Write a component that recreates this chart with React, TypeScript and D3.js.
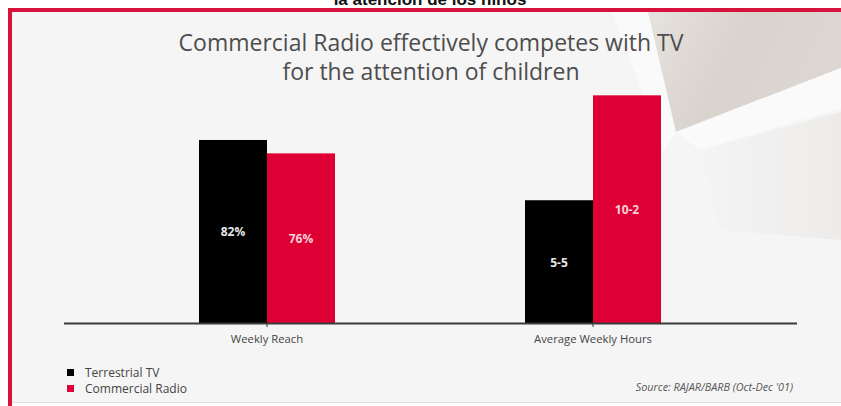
import React from "react";
import * as d3 from "d3";

const categories = ["Weekly Reach", "Average Weekly Hours"];
const series = ["Terrestrial TV", "Commercial Radio"];
const reachValues = [82, 76];
const hoursValues = [5.5, 10.2];
const reachLabels = ["82%", "76%"];
const hoursLabels = ["5-5", "10-2"];
const colors = ["#000000", "#de0034"];
const titleLines = ["Commercial Radio effectively competes with TV", "for the attention of children"];
const topCaption = "la atención de los niños";
const sourceText = "Source: RAJAR/BARB (Oct-Dec '01)";

const W = 841;
const H = 406;
const baseY = 323;
const topY = 99.8;

export default function App() {
  const x0 = d3.scaleBand<string>().domain(categories).range([104, 756]).padding(0);
  const x1 = d3
    .scaleBand<string>()
    .domain(series)
    .range([0, x0.bandwidth()])
    .paddingInner(0)
    .paddingOuter(1.397);
  const yPct = d3.scaleLinear().domain([0, 100]).range([baseY, topY]);
  const yHrs = d3.scaleLinear().domain([0, 10]).range([baseY, topY]);

  const groups = [
    { cat: categories[0], values: reachValues, labels: reachLabels, y: yPct },
    { cat: categories[1], values: hoursValues, labels: hoursLabels, y: yHrs },
  ];

  const font = "'Open Sans', 'Noto Sans', sans-serif";

  return (
    <svg
      width={W}
      height={H}
      style={{ position: "absolute", left: 0, top: 0, display: "block", background: "#ffffff" }}
    >
      <defs>
        <linearGradient id="deco" x1="0" y1="0" x2="1" y2="0.3">
          <stop offset="0" stopColor="#e6e2de" />
          <stop offset="0.5" stopColor="#d9d3cd" />
          <stop offset="1" stopColor="#dcd7d2" />
        </linearGradient>
        <linearGradient id="deco2" x1="0" y1="0" x2="1" y2="0">
          <stop offset="0" stopColor="#f4f4f4" />
          <stop offset="1" stopColor="#ebe9e7" />
        </linearGradient>
      </defs>
      {/* top caption (cut off at the top edge, as in the reference) */}
      <text
        x={430}
        y={5}
        textAnchor="middle"
        fontFamily="'Liberation Sans', Arial, sans-serif"
        fontWeight="bold"
        fontSize={17}
        fill="#111"
      >
        {topCaption}
      </text>
      {/* slide background */}
      <rect x={8} y={8} width={W - 8} height={395} fill="#f5f5f5" />
      {/* decoration */}
      <polygon points="700,150 841,112 841,240 720,230" fill="url(#deco2)" opacity={0.8} />
      <polygon points="612,12 648,12 676,132 664,150" fill="#fbfbfb" opacity={0.9} />
      <polygon points="648,12 841,12 841,68 676,132" fill="url(#deco)" />
      <polygon points="676,132 841,68 841,108 700,150" fill="#fafafa" />
      {/* red frame */}
      <rect x={8} y={8} width={W - 8} height={4} fill="#d9113d" />
      <rect x={8} y={8} width={4} height={H - 8} fill="#d9113d" />
      <rect x={12} y={402} width={W - 12} height={1} fill="#e8dcdc" />
      <rect x={12} y={403} width={W - 12} height={3} fill="#ffffff" />

      {/* title */}
      {titleLines.map((t, i) => (
        <text
          key={i}
          x={431}
          y={51 + i * 29}
          textAnchor="middle"
          fontFamily={font}
          fontSize={23}
          fill="#4d4d4d"
        >
          {t}
        </text>
      ))}

      {/* bars */}
      {groups.map((g) => (
        <g key={g.cat} transform={`translate(${x0(g.cat)},0)`}>
          {series.map((s, i) => {
            const bx = x1(s)!;
            const by = g.y(g.values[i]);
            return (
              <g key={s}>
                <rect x={bx} y={by} width={x1.bandwidth()} height={baseY - by} fill={colors[i]} />
                <text
                  x={bx + x1.bandwidth() / 2}
                  y={(by + baseY) / 2 + 5}
                  textAnchor="middle"
                  fontFamily={font}
                  fontWeight="bold"
                  fontSize={12}
                  fill={i === 0 ? "#e6e6e6" : "#f6d0d8"}
                >
                  {g.labels[i]}
                </text>
              </g>
            );
          })}
        </g>
      ))}

      {/* baseline */}
      <line x1={64} x2={797} y1={baseY + 0.5} y2={baseY + 0.5} stroke="#3a3a3a" strokeWidth={2} />
      {categories.map((c) => {
        const cx = x0(c)! + x0.bandwidth() / 2;
        return (
          <g key={c}>
            <line x1={cx} x2={cx} y1={baseY} y2={baseY + 4} stroke="#333" strokeWidth={1} />
            <text
              x={cx}
              y={343}
              textAnchor="middle"
              fontFamily={font}
              fontSize={11.3}
              fill="#444"
            >
              {c}
            </text>
          </g>
        );
      })}

      {/* legend */}
      {series.map((s, i) => (
        <g key={s} transform={`translate(67,${369 + i * 16})`}>
          <rect x={0} y={0} width={7} height={7} fill={colors[i]} />
          <text x={18} y={8} fontFamily={font} fontSize={12} fill="#444">
            {s}
          </text>
        </g>
      ))}

      {/* source */}
      <text
        x={793}
        y={391}
        textAnchor="end"
        fontFamily={font}
        fontStyle="italic"
        fontSize={10.8}
        fill="#555"
      >
        {sourceText}
      </text>
    </svg>
  );
}
